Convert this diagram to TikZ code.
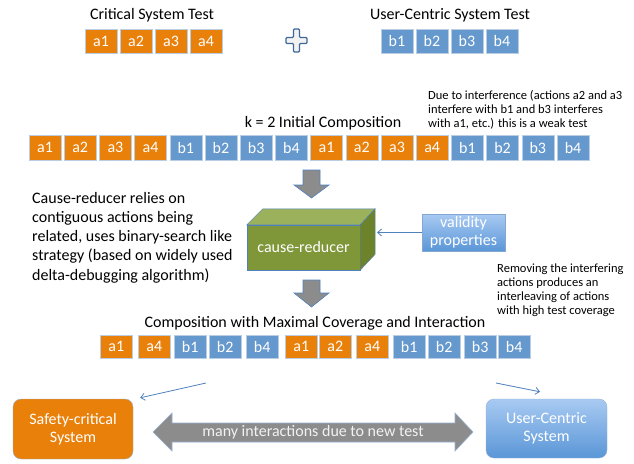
\documentclass[tikz,border=0pt]{standalone}
\usepackage{fontspec}
\setmainfont{Carlito}
\usetikzlibrary{shadows,arrows.meta}

\definecolor{arancio}{RGB}{233,128,10}
\definecolor{azzurro}{RGB}{101,152,204}
\definecolor{bordo}{RGB}{79,129,189}
\definecolor{grigio}{RGB}{140,140,140}
\definecolor{verde}{RGB}{127,151,57}
\definecolor{verdechiaro}{RGB}{155,177,92}
\definecolor{verdescuro}{RGB}{108,131,44}
\definecolor{cielo}{RGB}{168,202,242}
\definecolor{cielobasso}{RGB}{90,150,215}
\newcommand{\carattere}[2]{\fontsize{#1pt}{#2pt}\selectfont}

\begin{document}
\begin{tikzpicture}[x=1pt,y=-1pt,
    azione/.style={minimum width=32.5pt,minimum height=24pt,inner sep=0pt,text=white,
        font=\carattere{16}{16},draw=white!60!bordo,line width=0.4pt,
        drop shadow={shadow xshift=0.8pt,shadow yshift=-0.8pt,opacity=0.25}},
    azA/.style={azione,fill=arancio},
    azB/.style={azione,fill=azzurro},
    titolo/.style={font=\carattere{16}{19.2},inner sep=0pt},
    nota/.style={font=\carattere{12.5}{14},align=left,inner sep=0pt,anchor=north west},
    blocco/.style={draw=bordo,fill=grigio,line width=0.6pt},
    filo/.style={draw=bordo,line width=0.8pt,-{Straight Barb[length=4pt,width=7pt]}},
    sistema/.style={rounded corners=8pt,minimum width=120pt,minimum height=60pt,
        align=center,text=white,font=\carattere{16}{18},draw=bordo!60}]
    \useasboundingbox (0,0) rectangle (634,463);

    % Test di partenza
    \node[titolo] (tcrit) at (152,15) {Critical System Test};
    \node[titolo] (tuser) at (450,15) {User-Centric System Test};
    \foreach \lab [count=\i from 0] in {a1,a2,a3,a4}
        \node[azA] (crit\i) at (101+35*\i,41) {\lab};
    \foreach \lab [count=\i from 0] in {b1,b2,b3,b4}
        \node[azB] (user\i) at (397+35*\i,41) {\lab};
    \filldraw[fill=black!5,draw=bordo!80!black,line width=1.2pt,rounded corners=1pt]
        (293.5,29) -- (299.5,29) -- (299.5,37.5) -- (307,37.5) -- (307,43.5)
        -- (299.5,43.5) -- (299.5,52) -- (293.5,52) -- (293.5,43.5) -- (286,43.5)
        -- (286,37.5) -- (293.5,37.5) -- cycle;

    % Composizione iniziale
    \node[titolo] (tinit) at (323,123) {k = 2 Initial Composition};
    \node[nota] (ninit) at (428,90) {Due to interference (actions a2 and a3\\
        interfere with b1 and b3 interferes\\with a1, etc.) this is a weak test};
    \foreach \lab/\sty [count=\i from 0] in {a1/azA,a2/azA,a3/azA,a4/azA,b1/azB,b2/azB,b3/azB,b4/azB,
            a1/azA,a2/azA,a3/azA,a4/azA,b1/azB,b2/azB,b3/azB,b4/azB}
        \node[\sty,minimum width=32pt,minimum height=25pt] (init\i) at (45+35.2*\i,147.5) {\lab};

    % Riduzione
    \foreach \ya/\yb/\yc in {170/185/198,280/293/307}
        \filldraw[blocco] (303,\ya) -- (320,\ya) -- (320,\yb) -- (329,\yb) -- (311.5,\yc)
            -- (294,\yb) -- (303,\yb) -- cycle;
    \node[nota,font=\carattere{16}{19.2}] (ncause) at (32,192) {Cause-reducer relies on\\
        contiguous actions being\\related, uses binary-search like\\
        strategy (based on widely used\\delta-debugging algorithm)};
    \node[fill=verde,draw=bordo,minimum width=113pt,minimum height=45pt,text=white,
        font=\carattere{16}{16}] (reducer) at (303.5,247.5) {cause-reducer};
    \filldraw[fill=verdechiaro,draw=bordo] (reducer.north west) -- ([shift={(16,-16)}]reducer.north west)
        -- ([shift={(15,-16)}]reducer.north east) -- (reducer.north east) -- cycle;
    \filldraw[fill=verdescuro,draw=bordo] (reducer.north east) -- ([shift={(15,-16)}]reducer.north east)
        -- ([shift={(15,-16)}]reducer.south east) -- (reducer.south east) -- cycle;
    \node[top color=cielo,bottom color=cielobasso,draw=bordo!70,minimum width=83pt,
        minimum height=37pt,align=center,text=white,inner sep=0pt,
        font=\carattere{16}{18}] (valid) at (463.5,232.5) {validity\\properties};
    \coordinate (lato) at (377,232.5);
    \draw[filo] (valid.west) -- (lato);
    \node[nota] (nrem) at (497,264) {Removing the interfering\\actions produces an\\
        interleaving of actions\\with high test coverage};

    % Composizione finale
    \node[titolo] (tcov) at (315,323) {Composition with Maximal Coverage and Interaction};
    \foreach \lab/\sty/\xx [count=\i from 0] in {a1/azA/100,a4/azA/138,b1/azB/174,b2/azB/209,
            b4/azB/246,a1/azA/285,a2/azA/319,a4/azA/356,b1/azB/393,b2/azB/428,b3/azB/464,b4/azB/498}
        \node[\sty,minimum height=23pt] (cov\i) at (\xx+16.25,346.5) {\lab};

    % Sistemi
    \node[sistema,fill=arancio] (safety) at (73,429) {Safety-critical\\System};
    \node[sistema,top color=cielo,bottom color=cielobasso,minimum width=121pt,
        minimum height=59pt] (ucs) at (546.5,428.5) {User-Centric\\System};
    \coordinate (sx) at (206,383);
    \coordinate (dx) at (496,383);
    \draw[filo] (sx) -- ([shift={(7,-1)}]safety.north east);
    \draw[filo] (dx) -- ([shift={(-6.5,-7)}]ucs.north);
    \filldraw[blocco,draw=bordo!60] (153,432) -- (172,413) -- (172,423) -- (455,423) -- (455,413)
        -- (473,432) -- (455,451) -- (455,442) -- (172,442) -- (172,451) -- cycle;
    \node[titolo,text=black!5] (ninter) at (313,432) {many interactions due to new test};
\end{tikzpicture}
\end{document}
